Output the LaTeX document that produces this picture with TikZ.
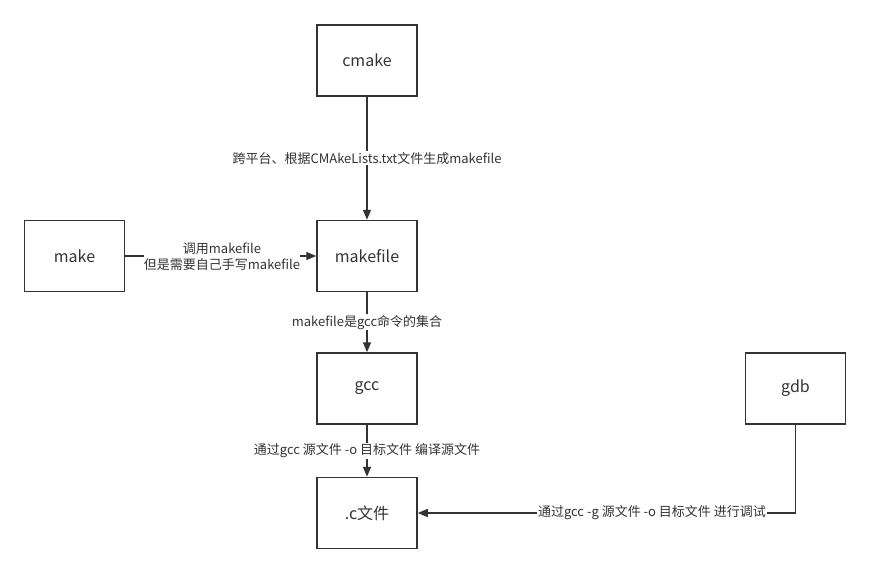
\documentclass[tikz,border=0pt]{standalone}
\usepackage{fontspec}
\setmainfont{Noto Sans CJK SC}
\usetikzlibrary{arrows.meta}
\definecolor{ink}{HTML}{333333}
\begin{document}
\begin{tikzpicture}[x=1pt,y=-1pt,
  box/.style={draw=ink,line width=1.5pt,minimum width=100pt,minimum height=71pt,
    inner sep=0pt,text=ink,font=\fontsize{16}{19}\selectfont},
  lbl/.style={fill=white,text=ink,inner sep=1pt,font=\fontsize{13}{16}\selectfont,align=center},
  link/.style={draw=ink,line width=1.5pt,-{Triangle[length=10pt,width=8pt]}}]
\useasboundingbox (0,0) rectangle (870,573);
\node[box] (cmake) at (367,60.5) {cmake};
\node[box] (makefile) at (367,256) {makefile};
\node[box] (make) at (74.5,256) {make};
\node[box] (gcc) at (367,388.5) {gcc};
\node[box] (cfile) at (367,513) {.c文件};
\node[box] (gdb) at (795.5,388.5) {gdb};
\coordinate (bend) at (gdb.south |- cfile.east);
\draw[link] (cmake) -- (makefile)
  node[lbl,pos=0.5] {跨平台、根据CMAkeLists.txt文件生成makefile};
\draw[link] (make) -- (makefile);
\node[lbl,inner sep=0pt] (makelbl) at (222,257) {调用makefile\\但是需要自己手写makefile};
\draw[link] (makefile) -- (gcc)
  node[lbl,pos=0.5] {makefile是gcc命令的集合};
\draw[link] (gcc) -- (cfile)
  node[lbl,pos=0.5] {通过gcc 源文件 -o 目标文件 编译源文件};
\draw[link] (gdb.south) -- (bend) -- (cfile.east)
  node[lbl,pos=0.38] {通过gcc -g 源文件 -o 目标文件 进行调试};
\end{tikzpicture}
\end{document}
